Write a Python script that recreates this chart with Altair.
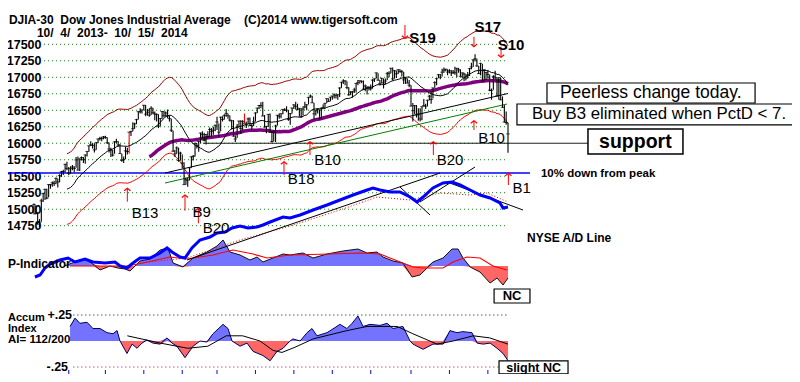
import altair as alt
import pandas as pd

FONT = "Liberation Sans"
NB = "\u00a0"

# ---------------- DJIA daily data (trading-day index 0 = 10/4/2013) ----------------
close = [
    15072, 14936, 14776, 14802, 15126, 15237, 15301, 15168, 15373, 15371, 15399, 15392, 15467, 15413, 15509, 15570, 15568, 15680, 15618, 15546,
    15615, 15639, 15618, 15747, 15594, 15762, 15784, 15751, 15822, 15876, 15962, 15976, 15967, 15900, 16009, 16064, 16073, 16072, 16097, 16086,
    16008, 15914, 15889, 15821, 16020, 16025, 15973, 15844, 15739, 15755, 15884, 15875, 16168, 16179, 16221, 16294, 16358, 16479, 16478, 16505, 16577,
    16441, 16470, 16425, 16530, 16462, 16445, 16437, 16257, 16374, 16482, 16418, 16459, 16415, 16374, 16198, 15880, 15838, 15929, 15739, 15849, 15699,
    15373, 15445, 15441, 15629, 15795, 15802, 15995, 15964, 16027, 16154, 16130, 16040, 16133, 16104, 16208, 16180, 16199, 16273, 16322,
    16168, 16396, 16361, 16422, 16453, 16418, 16352, 16341, 16109, 16065, 16247, 16337, 16223, 16332, 16303, 16276, 16368, 16268, 16264, 16324, 16458,
    16533, 16573, 16572, 16413, 16246, 16256, 16438, 16171, 16027, 16174, 16263, 16425, 16409, 16449, 16514, 16502, 16501, 16361, 16448, 16535, 16581,
    16559, 16513, 16530, 16401, 16518, 16551, 16583, 16695, 16715, 16613, 16446, 16491, 16511, 16374, 16533, 16543, 16606, 16676, 16634, 16699, 16717,
    16744, 16722, 16738, 16837, 16925, 16944, 16946, 16844, 16735, 16776, 16781, 16808, 16907, 16922, 16948, 16938, 16819, 16868, 16847, 16852, 16827,
    16957, 16977, 17068, 16956, 16907, 16985, 16915, 16944, 17055, 17061, 17138, 16976, 17100, 17052, 17114, 17087, 17084, 16961, 16983, 16913, 16881, 16563,
    16493, 16570, 16430, 16443, 16369, 16554, 16570, 16561, 16652, 16713, 16663, 16839, 16919, 16979, 17039, 17001, 17077, 17107, 17122, 17079, 17098,
    17067, 17078, 17069, 17137, 17111, 17014, 17068, 17049, 16988, 17031, 17131, 17157, 17266, 17280, 17173, 17056, 17211, 16946, 17113, 17071, 17043,
    16805, 16801, 17009, 16992, 16719, 16994, 16659, 16544, 16321, 16315, 16142,
]
high = [
    15085, 15060, 14950, 14850, 15160, 15250, 15310, 15310, 15380, 15380, 15420, 15430, 15480, 15460, 15530, 15580, 15600, 15690, 15720, 15640,
    15650, 15670, 15650, 15790, 15800, 15770, 15800, 15790, 15830, 15880, 15965, 16030, 16000, 16000, 16020, 16070, 16100, 16100, 16110, 16115,
    16090, 16010, 15930, 15900, 16030, 16070, 16030, 15990, 15840, 15800, 15950, 15930, 16170, 16190, 16320, 16310, 16370, 16480, 16530, 16510, 16580,
    16580, 16520, 16530, 16560, 16540, 16480, 16450, 16440, 16380, 16490, 16490, 16480, 16510, 16420, 16370, 16190, 15900, 15950, 15930, 15870, 15830,
    15710, 15480, 15480, 15630, 15800, 15820, 16010, 16000, 16030, 16160, 16180, 16160, 16140, 16180, 16240, 16230, 16250, 16280, 16400,
    16300, 16400, 16410, 16440, 16520, 16450, 16420, 16350, 16350, 16120, 16290, 16340, 16350, 16350, 16450, 16330, 16390, 16390, 16300, 16400, 16470,
    16540, 16580, 16620, 16630, 16430, 16260, 16440, 16450, 16180, 16200, 16280, 16430, 16450, 16450, 16520, 16530, 16560, 16500, 16460, 16540, 16590,
    16630, 16600, 16530, 16530, 16560, 16630, 16590, 16700, 16740, 16720, 16610, 16500, 16530, 16510, 16540, 16590, 16610, 16680, 16680, 16700, 16720,
    16750, 16740, 16740, 16850, 16930, 16970, 16950, 16940, 16850, 16790, 16790, 16840, 16910, 16960, 16950, 16950, 16950, 16890, 16860, 16860, 16890,
    16970, 16980, 17070, 17060, 16960, 16990, 16980, 16980, 17080, 17090, 17140, 17150, 17110, 17100, 17120, 17120, 17110, 17080, 17000, 16980, 16960, 16880,
    16610, 16580, 16580, 16530, 16530, 16560, 16670, 16600, 16660, 16730, 16790, 16840, 16940, 16990, 17050, 17050, 17130, 17150, 17130, 17120, 17120,
    17110, 17110, 17160, 17140, 17140, 17120, 17070, 17070, 17050, 17080, 17140, 17220, 17270, 17350, 17280, 17170, 17220, 17200, 17120, 17080, 17110,
    17040, 16830, 17030, 17100, 16990, 17000, 16990, 16710, 16580, 16480, 16310,
]
low = [
    14920, 14920, 14770, 14720, 14810, 15110, 15140, 15150, 15180, 15310, 15340, 15350, 15380, 15330, 15410, 15490, 15520, 15560, 15590, 15520,
    15540, 15590, 15560, 15630, 15590, 15580, 15740, 15700, 15690, 15800, 15870, 15960, 15920, 15860, 15900, 16000, 16040, 16030, 16060, 16070,
    15990, 15860, 15790, 15800, 15840, 16000, 15950, 15840, 15720, 15700, 15760, 15830, 15840, 16110, 16180, 16220, 16290, 16360, 16450, 16450, 16500,
    16410, 16420, 16400, 16430, 16440, 16350, 16330, 16230, 16260, 16370, 16390, 16400, 16380, 16330, 16170, 15870, 15790, 15840, 15720, 15740, 15620,
    15370, 15370, 15340, 15440, 15630, 15740, 15800, 15920, 15870, 16000, 16070, 16030, 15980, 16080, 16100, 16100, 16130, 16180, 16200,
    16100, 16180, 16330, 16360, 16400, 16370, 16330, 16210, 16100, 16020, 16080, 16240, 16140, 16200, 16300, 16230, 16290, 16260, 16200, 16260, 16330,
    16460, 16520, 16530, 16410, 16240, 16150, 16250, 16160, 16010, 16030, 16020, 16270, 16370, 16380, 16440, 16490, 16470, 16340, 16280, 16450, 16520,
    16510, 16500, 16400, 16390, 16420, 16530, 16500, 16590, 16690, 16610, 16360, 16420, 16450, 16360, 16370, 16530, 16540, 16610, 16630, 16640, 16660,
    16680, 16680, 16660, 16700, 16840, 16900, 16880, 16820, 16720, 16730, 16690, 16760, 16770, 16880, 16900, 16910, 16810, 16790, 16740, 16800, 16800,
    16830, 16930, 16980, 16950, 16880, 16910, 16830, 16900, 16960, 17000, 17060, 16950, 16980, 16990, 17050, 17070, 17010, 16900, 16900, 16910, 16850, 16560,
    16330, 16440, 16390, 16340, 16330, 16350, 16560, 16520, 16560, 16650, 16600, 16680, 16840, 16880, 16990, 16970, 17010, 17070, 17090, 17030, 17060,
    17020, 17050, 17040, 17000, 17070, 17010, 16990, 16940, 16950, 16980, 17020, 17120, 17160, 17240, 17160, 17050, 17030, 16940, 16950, 16960, 16980,
    16790, 16660, 16810, 16970, 16710, 16660, 16650, 16540, 16320, 16280, 15855,
]
assert len(close) == len(high) == len(low) == 260
red_days = [52, 115, 178]

price_ticks = [14750, 15000, 15250, 15500, 15750, 16000, 16250, 16500, 16750, 17000, 17250, 17500]
month_end_days = [19, 39, 60, 81, 100, 121, 142, 163, 184, 206, 227, 248]

# straight lines on the price panel (start/end)
trend_seg = ["black", "black", "green", "green"]
trend_day = [71.6, 259, 71.6, 258.5]
trend_val = [15549, 16754, 15397, 16595]

# ---------------- NYSE A/D line ----------------
ad_day = [0.5, 3.3, 6, 8.7, 14.2, 18.6, 22.4, 27.9, 32.2, 38.8, 44.3, 47, 50.8, 54.1, 57.9, 63.4, 68.9, 72.7, 75.4,
          79.8, 82.5, 86.3, 90.7, 96.2, 100, 104.4, 108.2, 112.6, 116.9, 121.9, 125.1, 129, 136.1, 139.9, 145.4,
          152.5, 160.1, 167.2, 174.3, 182, 185.2, 189.1, 194.5, 200, 205.5, 209.3, 212.6, 218, 223.5, 228.4,
          232.8, 238.3, 243.7, 249.2, 254.6, 256.3, 259]
ad_val = [23, 25, 32, 36, 40, 42, 38, 41, 38, 37, 38, 34, 32, 37, 42, 42, 47, 52, 48,
          43, 42, 52, 60, 63, 67, 68, 72, 74, 72, 73, 75, 78, 83, 82, 85,
          90, 95, 100, 105, 110, 112, 110, 108, 108, 103, 98, 103, 112, 117, 118,
          115, 110, 105, 102, 97, 92, 93]
ad_ma_day = [57.9, 83.6, 112.6, 139.9, 167.2, 187.4, 205.5, 221.9, 238.3, 247.5, 259]
ad_ma_val = [37, 42, 60, 74, 90, 103, 100, 107, 105, 107, 98]
ad_tr_seg = ["a", "a", "b", "b", "c", "c", "d", "d"]
ad_tr_day = [83.6, 221.9, 200, 216.4, 210.9, 241, 225.7, 267.2]
ad_tr_val = [40, 127, 113, 85, 98, 133, 118, 90]

# ---------------- P-Indicator ----------------
pi_day = [16.4, 22.4, 27.9, 32.2, 36.1, 41.5, 45.9, 49.7, 52.5, 55.2, 57.9, 63.4, 68.9, 73.2, 76, 81.4, 86.9,
          94.5, 100, 103.3, 107.1, 112.6, 118, 121.9, 125.1, 130.6, 136.1, 139.9, 147, 152.5, 160.1, 168.9,
          177, 182, 187.4, 190.7, 196.2, 201.6, 206.6, 210.9, 214.8, 218, 223.5, 228.4, 231.7, 234.4, 238.3,
          243.7, 249.2, 253, 256.3, 259]
pi_val = [0, 4, 7, 2, -4, 0, -2, -3, -5, 0, 5, 7, 16, 18, 3, -1, 8,
          14, 20, 26, 14, 11, 6, 9, 4, 8, 12, 11, 13, 8, 12, 15,
          17, 13, 14, 9, 5, 3, -11, -9, -2, 4, 8, 17, 17, 8, -1,
          -6, -17, -12, -19, -12]
pi_ma_day = [19.7, 50.8, 59.6, 74.3, 83.6, 97.8, 108.7, 119.7, 127.3, 139.9, 161.7, 178.1, 189.1, 194.5,
             207.1, 212.6, 223.5, 229, 236.6, 243.7, 250.8, 258.5]
pi_ma_val = [0, 0, 3, 9, 7, 11, 16, 12, 8, 11, 12, 13, 12, 8, -1, -2, -2, 4, 9, 8, 0, -4]

# ---------------- Accumulation Index ----------------
ac_day = [19.7, 22.4, 25.1, 29, 32.2, 36.1, 39.9, 43.2, 45.4, 47, 50.8, 53.6, 56.3, 59, 61.7, 65, 68.9, 72.7,
          75.4, 78.1, 82.5, 86.9, 90.7, 94.5, 97.8, 103.3, 106, 108.2, 112.6, 116.4, 119.7, 125.1, 129,
          132.8, 136.1, 139.9, 141.5, 145.4, 149.2, 151.9, 154.6, 160.1, 167.2, 171, 173.8, 177, 179.8,
          183.6, 189.1, 192.9, 196.2, 201.6, 205.5, 207.1, 212.6, 218, 223.5, 227.3, 231.1, 234.4, 239.3,
          242.1, 245.4, 249.2, 253, 256.3, 259]
ac_val = [0.14, 0.22, 0.17, 0.18, 0.12, 0.12, 0.08, 0.07, 0.10, 0.0, -0.12, -0.03, -0.07, -0.02, 0.01, -0.02, -0.03, 0.03,
          -0.02, -0.05, -0.16, -0.05, 0.0, -0.01, 0.07, 0.16, 0.12, 0.0, -0.05, -0.02, -0.10, -0.14, -0.19,
          -0.10, -0.07, 0.0, 0.02, 0.0, 0.08, 0.12, 0.05, 0.08, 0.16, 0.12, 0.17, 0.24, 0.14,
          0.16, 0.15, 0.17, 0.12, 0.14, 0.0, -0.03, -0.08, -0.03, -0.03, 0.10, 0.08, 0.09, 0.08,
          -0.02, -0.03, -0.02, -0.07, -0.12, -0.19]
ac_ma_day = [51, 69, 84, 95, 105, 114, 123.5, 130.6, 135.5, 142.6, 152.5, 171, 182, 198.4, 207, 220.2, 229, 240, 249, 259]
ac_ma_val = [0.05, -0.02, -0.07, -0.05, 0.05, 0.05, 0.0, -0.09, -0.11, -0.06, 0.02, 0.10, 0.14, 0.14, 0.07, -0.03, 0.0, 0.05, 0.03, -0.03]

# ---------------- Peerless signals ----------------
buy_label = ["B13", "B9", "B20", "B18", "B10", "B20", "B10", "B1"]
buy_day = [51, 82.5, 89.8, 136.6, 150.8, 218.2, 240.4, 259.2]
buy_tip = [15317, 15216, 15014, 15720, 16024, 16024, 16342, 15544]
buy_tail = [15114, 14977, 14786, 15519, 15822, 15822, 16201, 15367]
buy_text_day = [60.7, 91.6, 99.5, 146, 160.4, 227.3, 250, 266.5]
buy_text_val = [14946, 14953, 14711, 15458, 15746, 15746, 16075, 15317]

sell_label = ["S19", "S17", "S10"]
sell_day = [202.7, 240.4, 255.2]
sell_tip = [17591, 17464, 17303]
sell_tail = [17793, 17615, 17464]
sell_text_day = [212.3, 248, 260.7]
sell_text_val = [17596, 17767, 17489]

# ---------------- scales ----------------
X = alt.Scale(domain=[0, 259], range=[-10, 464], nice=False, zero=False)
YP = alt.Scale(domain=[14750, 17500], range=[217.7, 36.3], nice=False, zero=False)
YAD = alt.Scale(domain=[0, 150], range=[292, 142], nice=False, zero=False)
YPI = alt.Scale(domain=[-40, 40], range=[298, 218], nice=False, zero=False)
YAC = alt.Scale(domain=[-0.25, 0.25], range=[359, 307], nice=False, zero=False)


def xq(field):
    return alt.X(field, type="quantitative", scale=X, axis=None)


def yq(field, scale):
    return alt.Y(field, type="quantitative", scale=scale, axis=None)


def label(text, day, val, scale, size=12, weight="bold", align="center", color="black"):
    df = pd.DataFrame({"t": [text], "d": [day], "v": [val]})
    return alt.Chart(df).mark_text(font=FONT, fontSize=size, fontWeight=weight, align=align,
                                   baseline="middle", color=color).encode(
        x=xq("d"), y=yq("v", scale), text="t:N")


def box(d0, d1, v0, v1, scale, width=1.2):
    df = pd.DataFrame({"d0": [d0], "d1": [d1], "v0": [v0], "v1": [v1]})
    return alt.Chart(df).mark_rect(fill="white", stroke="black", strokeWidth=width).encode(
        x=xq("d0"), x2="d1:Q", y=yq("v0", scale), y2="v1:Q")


layers = []

# price grid with axis labels
grid_df = pd.DataFrame({"level": price_ticks, "x0": 5.5, "x1": 259})
layers.append(alt.Chart(grid_df).mark_rule(color="#008000", strokeDash=[1, 3], strokeWidth=1).encode(
    x=xq("x0"), x2="x1:Q",
    y=alt.Y("level:Q", scale=YP, axis=alt.Axis(values=price_ticks, format="d", labelFont=FONT, labelFontSize=12.5,
                                               labelFontWeight="bold", labelColor="black", domain=False,
                                               ticks=False, grid=False, labelPadding=3, title=None,
                                               labelBound=False, labelFlush=False, labelOverlap=False))))

# accum grid
acg = pd.DataFrame({"level": [0.25, -0.25], "x0": 21.5, "x1": 259, "c": ["#000000", "#aa0060"]})
layers.append(alt.Chart(acg).mark_rule(strokeDash=[1, 3], strokeWidth=1).encode(
    x=xq("x0"), x2="x1:Q", y=yq("level", YAC), color=alt.Color("c:N", scale=None)))

# 10% down line and support line
lines_df = pd.DataFrame({"v": [15550], "x0": [-14.2], "x1": [271]})
layers.append(alt.Chart(lines_df).mark_rule(color="#0000ff", strokeWidth=1.5).encode(
    x=xq("x0"), x2="x1:Q", y=yq("v", YP)))
sup_df = pd.DataFrame({"v": [16000], "x0": [92.3], "x1": [302.7]})
layers.append(alt.Chart(sup_df).mark_rule(color="#202020", strokeWidth=1).encode(
    x=xq("x0"), x2="x1:Q", y=yq("v", YP)))

# price bars
price_df = pd.DataFrame({"day": list(range(260)), "close": close, "high": high, "low": low})
price_df["red"] = price_df["day"].isin(red_days)
pbase = alt.Chart(price_df)

ma = pbase.transform_window(ma="mean(close)", frame=[-20, 0], sort=[alt.SortField("day")]).transform_filter(
    "datum.day >= 18").transform_calculate(up="datum.ma * 1.035", dn="datum.ma * 0.965")
ma65 = pbase.transform_window(m65="mean(close)", frame=[-64, 0], sort=[alt.SortField("day")]).transform_filter(
    "datum.day >= 63")

layers.append(ma.mark_line(color="#990000", strokeWidth=1).encode(x=xq("day"), y=yq("up", YP)))
layers.append(ma.mark_line(color="#ff0000", strokeWidth=1).encode(x=xq("day"), y=yq("dn", YP)))

trend_df = pd.DataFrame({"seg": trend_seg, "day": trend_day, "v": trend_val})
layers.append(alt.Chart(trend_df).mark_line(strokeWidth=1).encode(
    x=xq("day"), y=yq("v", YP), detail="seg:N",
    color=alt.Color("seg:N", scale=alt.Scale(domain=["black", "green"], range=["#000000", "#008000"]), legend=None)))

layers.append(ma65.mark_line(color="#800080", strokeWidth=3.5).encode(x=xq("day"), y=yq("m65", YP)))

layers.append(pbase.mark_rule(strokeWidth=1.1).encode(
    x=xq("day"), y=yq("low", YP), y2="high:Q",
    color=alt.condition("datum.red", alt.value("#ff0000"), alt.value("#000000"))))
layers.append(pbase.mark_tick(orient="horizontal", size=3.5, thickness=1, color="black").encode(
    x=xq("day"), y=yq("close", YP)))
layers.append(ma.mark_line(color="black", strokeWidth=1).encode(x=xq("day"), y=yq("ma", YP)))

# P-Indicator
pi_df = pd.DataFrame({"day": pi_day, "v": pi_val})
pi_df["pos"] = pi_df["v"].clip(lower=0)
pi_df["neg"] = pi_df["v"].clip(upper=0)
pi_df["zero"] = 0
layers.append(alt.Chart(pi_df).mark_area(color="#0000ff", opacity=0.55).encode(
    x=xq("day"), y=yq("pos", YPI), y2="zero:Q"))
layers.append(alt.Chart(pi_df).mark_area(color="#ff0000", opacity=0.6).encode(
    x=xq("day"), y=yq("neg", YPI), y2="zero:Q"))
layers.append(alt.Chart(pi_df).mark_line(color="#101010", strokeWidth=1).encode(x=xq("day"), y=yq("v", YPI)))
pima_df = pd.DataFrame({"day": pi_ma_day, "v": pi_ma_val})
layers.append(alt.Chart(pima_df).mark_line(color="#ff0000", strokeWidth=1.2).encode(x=xq("day"), y=yq("v", YPI)))

# Accumulation index
ac_df = pd.DataFrame({"day": ac_day, "v": ac_val})
ac_df["pos"] = ac_df["v"].clip(lower=0)
ac_df["neg"] = ac_df["v"].clip(upper=0)
ac_df["zero"] = 0.0
layers.append(alt.Chart(ac_df).mark_area(color="#0000ff", opacity=0.55).encode(
    x=xq("day"), y=yq("pos", YAC), y2="zero:Q"))
layers.append(alt.Chart(ac_df).mark_area(color="#ff0000", opacity=0.6).encode(
    x=xq("day"), y=yq("neg", YAC), y2="zero:Q"))
layers.append(alt.Chart(ac_df).mark_line(color="#000060", strokeWidth=1).encode(x=xq("day"), y=yq("v", YAC)))
acma_df = pd.DataFrame({"day": ac_ma_day, "v": ac_ma_val})
layers.append(alt.Chart(acma_df).mark_line(color="black", strokeWidth=1).encode(x=xq("day"), y=yq("v", YAC)))

# A/D line
adma_df = pd.DataFrame({"day": ad_ma_day, "v": ad_ma_val})
layers.append(alt.Chart(adma_df).mark_line(color="#ff0000", strokeWidth=1, strokeDash=[1, 2]).encode(
    x=xq("day"), y=yq("v", YAD)))
adtr_df = pd.DataFrame({"seg": ad_tr_seg, "day": ad_tr_day, "v": ad_tr_val})
layers.append(alt.Chart(adtr_df).mark_line(color="black", strokeWidth=1).encode(
    x=xq("day"), y=yq("v", YAD), detail="seg:N"))
ad_df = pd.DataFrame({"day": ad_day, "v": ad_val})
layers.append(alt.Chart(ad_df).mark_line(color="#0000ff", strokeWidth=3).encode(x=xq("day"), y=yq("v", YAD)))

# signal arrows
buy_df = pd.DataFrame({"day": buy_day, "tip": buy_tip, "tail": buy_tail})
sell_df = pd.DataFrame({"day": sell_day, "tip": sell_tip, "tail": sell_tail})
for df, shape in ((buy_df, "M-1,0.8L0,0L1,0.8"), (sell_df, "M-1,-0.8L0,0L1,-0.8")):
    layers.append(alt.Chart(df).mark_rule(color="#ff0000", strokeWidth=1).encode(
        x=xq("day"), y=yq("tail", YP), y2="tip:Q"))
    layers.append(alt.Chart(df).mark_point(shape=shape, filled=False, color="#ff0000", size=40,
                                           strokeWidth=1.2, opacity=1).encode(
        x=xq("day"), y=yq("tip", YP)))

for t, d, v in zip(buy_label, buy_text_day, buy_text_val):
    layers.append(label(t, d, v, YP, size=15, weight="normal"))
for t, d, v in zip(sell_label, sell_text_day, sell_text_val):
    layers.append(label(t, d, v, YP, size=15, weight="bold"))

# boxes and notes
layers.append(box(280.3, 394.0, 16913, 16610, YP))
layers.append(label("Peerless change today.", 337, 16762, YP, size=17.5, weight="normal"))
layers.append(box(263.9, 420, 16595, 16277, YP))
layers.append(label("Buy B3 eliminated when PctD < 7.", 341.5, 16436, YP, size=16.8, weight="normal"))
layers.append(box(302.7, 354.6, 16216, 15837, YP, width=1.5))
layers.append(label("support", 328.6, 16025, YP, size=19.5, weight="bold"))
layers.append(label("10% down from peak", 277, 15535, YP, size=11.5, align="left"))
layers.append(label("NYSE A/D Line", 269.4, 62, YAD, size=12, align="left"))
layers.append(box(251.4, 271, -23, -37, YPI))
layers.append(label("NC", 261.2, -30, YPI, size=13))
layers.append(box(254.1, 291.8, -0.192, -0.317, YAC))
layers.append(label("slight NC", 273, -0.255, YAC, size=12.5))

# titles and panel labels
title_txt = "DJIA-30" + NB + NB + "Dow Jones Industrial Average" + NB * 4 + "(C)2014 www.tigersoft.com"
date_txt = (NB + NB).join(["10/", "4/", "2013-", "10/", "15/", "2014"])
layers.append(label(title_txt, -13.7, 17868, YP, size=12, align="left"))
layers.append(label(date_txt, 1.6, 17668, YP, size=12, align="left"))
layers.append(label("P-Indicator", -14.2, 2, YPI, size=12, align="left"))
layers.append(label("Accum", -14.2, 0.22, YAC, size=11, align="left"))
layers.append(label("Index", -14.2, 0.115, YAC, size=11, align="left"))
layers.append(label("AI= 112/200", -14.2, 0.01, YAC, size=11.5, align="left"))
layers.append(label("+.25", 20.8, 0.25, YAC, size=12.5, align="right"))
layers.append(label("-.25", 18.6, -0.25, YAC, size=12.5, align="right"))

# month ticks
mt_df = pd.DataFrame({"day": month_end_days, "y0": -0.279, "y1": -0.317})
layers.append(alt.Chart(mt_df).mark_rule(color="#0000ff", strokeWidth=1).encode(
    x=xq("day"), y=yq("y0", YAC), y2="y1:Q"))

chart = alt.layer(*layers).resolve_scale(y="independent").properties(
    width=748, height=366,
    autosize=alt.AutoSizeParams(type="none"),
    padding={"left": 36, "top": 0, "right": 0, "bottom": 0},
    background="white",
).configure_view(stroke=None)

chart.save("out.html", embed_options={"renderer": "svg", "actions": False})
